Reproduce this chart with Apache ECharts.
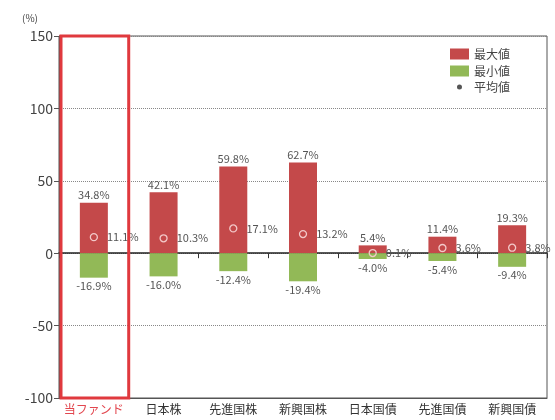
<!DOCTYPE html>
<html>
<head>
<meta charset="utf-8">
<script src="https://cdn.jsdelivr.net/npm/echarts@6/dist/echarts.min.js"></script>
<style>html,body{margin:0;padding:0;background:#fff}#c{width:555px;height:420px}</style>
</head>
<body>
<div id="c"></div>
<script>
var categories = ['当ファンド', '日本株', '先進国株', '新興国株', '日本国債', '先進国債', '新興国債'];
var maxValues = [34.8, 42.1, 59.8, 62.7, 5.4, 11.4, 19.3];
var minValues = [-16.9, -16.0, -12.4, -19.4, -4.0, -5.4, -9.4];
var avgValues = [11.1, 10.3, 17.1, 13.2, 0.1, 3.6, 3.8];
var yTicks = { min: -100, max: 150, interval: 50 };

var FONT = '"Noto Sans CJK JP", "Noto Sans", sans-serif';
function pct(p) { return Number(p.value).toFixed(1) + '%'; }
var chart = echarts.init(document.getElementById('c'));
var catData = categories.map(function (c, i) {
  return i === 0 ? { value: c, textStyle: { color: '#e2474f' } } : c;
});
var option = {
  animation: false,
  textStyle: { fontFamily: FONT },
  title: { text: '(%)', left: 17, top: 8, textStyle: { fontSize: 10, fontWeight: 'normal', color: '#444', fontFamily: FONT } },
  grid: { left: 59, right: 8, top: 36, bottom: 22, show: true, borderColor: '#555', borderWidth: 1 },
  legend: [
    { data: [{ name: '最大値', icon: 'rect' }, { name: '最小値', icon: 'rect' }], orient: 'vertical', right: 40, top: 43, itemWidth: 19, itemHeight: 11, itemGap: 5,
      textStyle: { fontSize: 12, color: '#444', fontFamily: FONT } },
    { data: [{ name: '平均値', icon: 'circle', itemStyle: { color: '#555', borderWidth: 0, opacity: 1 } }], orient: 'vertical', right: 40, top: 76,
      itemWidth: 19, itemHeight: 5, textStyle: { fontSize: 12, color: '#444', fontFamily: FONT } }
  ],
  xAxis: [
    { type: 'category', data: catData, position: 'bottom',
      axisLine: { onZero: false, show: true, lineStyle: { color: '#555' } },
      axisTick: { show: false },
      axisLabel: { interval: 0, fontSize: 12, color: '#333', margin: 5, fontFamily: FONT } },
    { type: 'category', data: categories, position: 'bottom',
      axisLine: { onZero: true, onZeroAxisIndex: 0, lineStyle: { color: '#222', width: 1.5 } },
      axisTick: { show: true, interval: 0, length: 5, lineStyle: { color: '#333' } },
      axisLabel: { show: false } }
  ],
  yAxis: {
    type: 'value', min: yTicks.min, max: yTicks.max, interval: yTicks.interval,
    axisLine: { show: true, lineStyle: { color: '#555' } },
    axisTick: { show: true, length: 5, lineStyle: { color: '#555' } },
    axisLabel: { fontSize: 14, color: '#444', margin: 6, fontFamily: FONT },
    splitLine: { show: true, lineStyle: { type: 'dotted', color: '#888' } }
  },
  series: [
    { name: '最大値', type: 'bar', data: maxValues, barWidth: 28, barGap: '-100%',
      itemStyle: { color: '#c4494a' },
      label: { show: true, position: 'top', distance: 2, formatter: pct, fontSize: 11, color: '#555', fontFamily: FONT } },
    { name: '最小値', type: 'bar', data: minValues, barWidth: 28,
      itemStyle: { color: '#92b957' },
      label: { show: true, position: 'bottom', distance: 3, formatter: pct, fontSize: 11, color: '#555', fontFamily: FONT } },
    { name: '平均値', type: 'scatter', data: avgValues, symbol: 'circle', symbolSize: 7,
      itemStyle: { color: 'rgba(0,0,0,0)', borderColor: '#f3c9c9', borderWidth: 1.3, opacity: 1 },
      label: { show: true, position: 'right', distance: 9, formatter: pct, fontSize: 11, color: '#555', fontFamily: FONT },
      z: 5 }
  ]
};
chart.setOption(option);

// Highlight box around the first category band, placed via the axes' scales
var c0 = chart.convertToPixel({ xAxisIndex: 0 }, 0);
var c1 = chart.convertToPixel({ xAxisIndex: 0 }, 1);
var band = c1 - c0;
var yTop = chart.convertToPixel({ yAxisIndex: 0 }, yTicks.max);
var yBot = chart.convertToPixel({ yAxisIndex: 0 }, yTicks.min);
chart.setOption({
  graphic: [{ type: 'rect', z: 100, silent: true,
    shape: { x: c0 - band / 2 + 2, y: yTop, width: band - 2, height: yBot - yTop },
    style: { fill: 'none', stroke: '#e0393e', lineWidth: 3 } }]
});
</script>
</body>
</html>
